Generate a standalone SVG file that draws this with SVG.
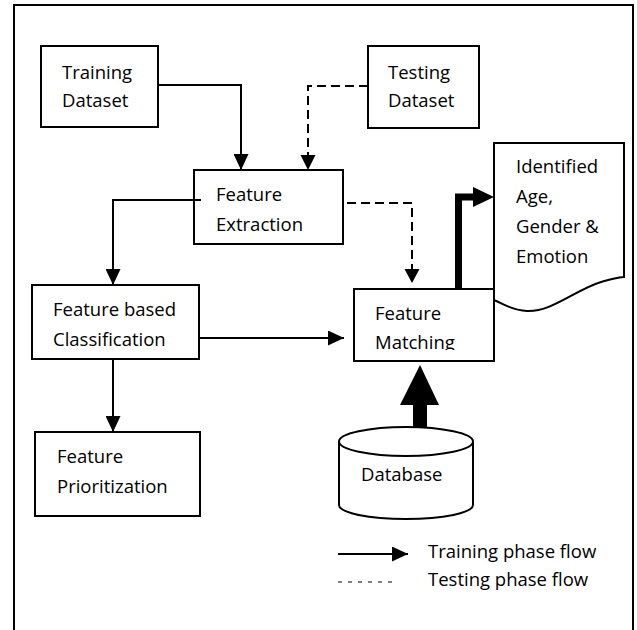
<svg xmlns="http://www.w3.org/2000/svg" width="637" height="630" viewBox="0 0 637 630">
  <style>
    .box { fill: #fff; stroke: #000; stroke-width: 2; }
    .lbl { font-family: "Open Sans", "Liberation Sans", sans-serif; font-size: 18.5px; fill: #000; }
    .solid { fill: none; stroke: #000; stroke-width: 2; }
    .dash { fill: none; stroke: #000; stroke-width: 2; stroke-dasharray: 9 5; }
    .thick { fill: none; stroke: #000; stroke-width: 7; }
  </style>
  <defs>
    <marker id="head" markerUnits="userSpaceOnUse" markerWidth="16" markerHeight="15" refX="16" refY="7.5" orient="auto">
      <path d="M0,0 L16,7.5 L0,15 Z" fill="#000"/>
    </marker>
    <clipPath id="fmClip">
      <rect x="354" y="289" width="140" height="61"/>
    </clipPath>
  </defs>

  <rect width="637" height="630" fill="#fff"/>
  <!-- outer frame, open at the bottom -->
  <path d="M14,640 V5 H633 V640" fill="none" stroke="#000" stroke-width="2"/>

  <g id="training-dataset">
    <rect class="box" x="41" y="46" width="117" height="81"/>
    <text class="lbl" x="62" y="79">Training</text>
    <text class="lbl" x="62" y="107">Dataset</text>
  </g>

  <g id="testing-dataset">
    <rect class="box" x="368" y="46" width="111" height="82"/>
    <text class="lbl" x="388" y="79">Testing</text>
    <text class="lbl" x="388" y="107">Dataset</text>
  </g>

  <g id="feature-extraction">
    <rect class="box" x="194" y="170" width="149" height="74"/>
    <text class="lbl" x="216" y="201">Feature</text>
    <text class="lbl" x="216" y="231">Extraction</text>
  </g>

  <g id="identified-output">
    <path class="box" d="M494,143 H624 V277 C614,278 608,280 601,282 C575,290 552,312 527,311 C510,310 502,303 494,300 Z"/>
    <text class="lbl" x="516" y="173">Identified</text>
    <text class="lbl" x="516" y="203">Age,</text>
    <text class="lbl" x="516" y="233">Gender &amp;</text>
    <text class="lbl" x="516" y="263">Emotion</text>
  </g>

  <g id="feature-classification">
    <rect class="box" x="32" y="285" width="167" height="74"/>
    <text class="lbl" x="53" y="316">Feature based</text>
    <text class="lbl" x="53" y="346">Classification</text>
  </g>

  <g id="feature-matching">
    <rect class="box" x="354" y="289" width="140" height="72"/>
    <g clip-path="url(#fmClip)">
      <text class="lbl" x="375" y="320">Feature</text>
      <text class="lbl" x="375" y="349">Matching</text>
    </g>
  </g>

  <g id="feature-prioritization">
    <rect class="box" x="35" y="432" width="165" height="84"/>
    <text class="lbl" x="57" y="463">Feature</text>
    <text class="lbl" x="57" y="493">Prioritization</text>
  </g>

  <g id="database">
    <path class="box" d="M339,441.5 V505 A67,14 0 0 0 473,505 V441.5"/>
    <ellipse class="box" cx="406" cy="441.5" rx="67" ry="14.5"/>
    <text class="lbl" x="361" y="481">Database</text>
  </g>

  <g id="connectors">
    <!-- training flow -->
    <path class="solid" d="M158,85 H241 V170" marker-end="url(#head)"/>
    <path class="solid" d="M201,200 H113 V285" marker-end="url(#head)"/>
    <path class="solid" d="M199,338 H344" marker-end="url(#head)"/>
    <path class="solid" d="M113,359 V432" marker-end="url(#head)"/>
    <!-- testing flow -->
    <path class="dash" d="M368,86 H308 V155"/>
    <path d="M300.5,155 L308,170 L315.5,155 Z" fill="#000"/>
    <path class="dash" d="M347,203 H412 V270"/>
    <path d="M404.5,269 L412,283 L419.5,269 Z" fill="#000"/>
    <!-- result to output document -->
    <path class="thick" d="M458.5,289 V197 H476" stroke-linejoin="miter"/>
    <path d="M473,187 L494,197 L473,207 Z" fill="#000"/>
    <!-- database to matching -->
    <rect x="413" y="403" width="14" height="25" fill="#000"/>
    <path d="M400,405 L420,365 L439,405 Z" fill="#000"/>
  </g>

  <g id="legend">
    <path class="solid" d="M338,554 H408" marker-end="url(#head)"/>
    <text class="lbl" x="428" y="558">Training phase flow</text>
    <path d="M338,582 H398" fill="none" stroke="#000" stroke-width="1" stroke-dasharray="4 6"/>
    <text class="lbl" x="428" y="586">Testing phase flow</text>
  </g>
</svg>
